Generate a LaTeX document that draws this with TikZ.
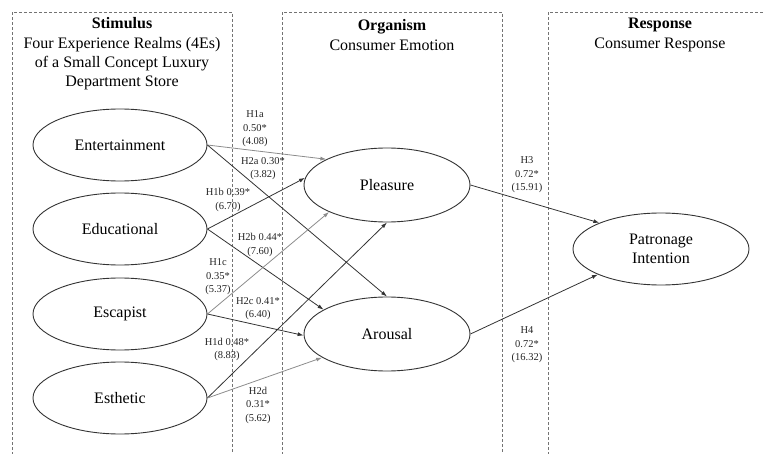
\documentclass[tikz,border=0pt]{standalone}
\usepackage{fontspec}
\setmainfont{Liberation Serif}
\usetikzlibrary{shapes.geometric,arrows.meta}
\tikzset{
  realm/.style={ellipse,draw=black!80,line width=0.9pt,inner sep=0pt,
    minimum width=174pt,minimum height=72pt,align=center,
    font=\fontsize{16}{19.3}\selectfont},
  zone/.style={draw=black!55,line width=0.8pt,dash pattern=on 3pt off 2pt},
  head/.style={align=center,font=\fontsize{16}{19.3}\selectfont},
  coef/.style={align=center,text=black!85,font=\fontsize{10.5}{13.5}\selectfont},
  link/.style={draw=black!80,line width=0.8pt,-{Latex[length=6pt,width=4pt]}},
  faint/.style={link,draw=black!45}
}
\begin{document}
\begin{tikzpicture}[x=1pt,y=-1pt]
\clip (0,0) rectangle (763,454);
% 虚线框
\draw[zone] (12,460) |- (232,12) -- (232,460);
\draw[zone] (282,460) |- (502,12) -- (502,460);
\draw[zone] (548,460) |- (772,12) -- (772,460);
% 标题
\node[head] (stim) at (122,54) {\textbf{Stimulus}\\Four Experience Realms (4Es)\\of a Small Concept Luxury\\Department Store};
\node[head] (org) at (392,35) {\textbf{Organism}\\Consumer Emotion};
\node[head] (resp) at (660,35) {\textbf{Response}\\Consumer Response};
% 椭圆
\node[realm] (ent) at (120,145) {Entertainment};
\node[realm] (edu) at (120,229) {Educational};
\node[realm] (esc) at (120,314) {Escapist};
\node[realm] (est) at (120,398) {Esthetic};
\node[realm,minimum width=166pt,minimum height=74pt] (ple) at (387,185) {Pleasure};
\node[realm,minimum width=166pt,minimum height=74pt] (aro) at (387,334) {Arousal};
\node[realm,minimum width=176pt] (pat) at (661,249) {Patronage\\Intention};
% 路径
\draw[faint] (ent.east) -- (ple.157);
\draw[link] (ent.east) -- (aro.90);
\draw[link] (edu.east) -- (ple.175);
\draw[link] (edu.east) -- (aro.159);
\draw[faint] (esc.east) -- (ple.205);
\draw[link] (esc.east) -- (aro.181);
\draw[link] (est.east) -- (ple.270);
\draw[faint] (est.east) -- (aro.200);
\draw[link] (ple.east) -- (pat.157);
\draw[link] (aro.east) -- (pat.202);
% 系数
\node[coef] (h1a) at (255,129) {H1a\\0.50*\\(4.08)};
\node[coef] (h2a) at (263,168.5) {H2a 0.30*\\(3.82)};
\node[coef] (h1b) at (228,200) {H1b 0.39*\\(6.70)};
\node[coef] (h2b) at (260,245) {H2b 0.44*\\(7.60)};
\node[coef] (h1c) at (218,277) {H1c\\0.35*\\(5.37)};
\node[coef] (h2c) at (258,308.5) {H2c 0.41*\\(6.40)};
\node[coef] (h1d) at (227,349.5) {H1d 0.48*\\(8.83)};
\node[coef] (h2d) at (258,405) {H2d\\0.31*\\(5.62)};
\node[coef] (h3) at (527,175) {H3\\0.72*\\(15.91)};
\node[coef] (h4) at (527,345) {H4\\0.72*\\(16.32)};
\end{tikzpicture}
\end{document}
